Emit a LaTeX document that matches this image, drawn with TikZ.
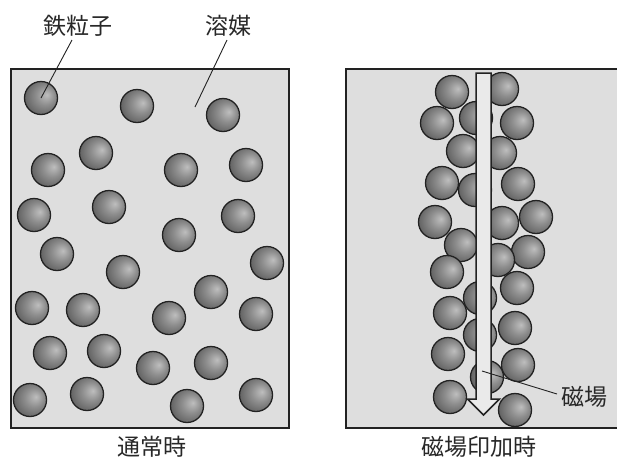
\documentclass[tikz,border=0pt]{standalone}
\usepackage{fontspec}
\newfontfamily\jpfont{Noto Sans CJK JP}
\definecolor{solvent}{RGB}{222,222,222}
\definecolor{edge}{RGB}{34,34,34}
\definecolor{ballhi}{RGB}{190,190,190}
\definecolor{ballmid}{RGB}{142,142,142}
\definecolor{balllo}{RGB}{96,96,96}
\definecolor{shaft}{RGB}{234,234,234}
\definecolor{labeltext}{RGB}{40,40,40}
% iron particle: soft highlight slightly right of centre
\pgfdeclareradialshading{particle}{\pgfpoint{9bp}{5bp}}{%
  color(0bp)=(ballhi); color(14bp)=(ballmid); color(30bp)=(balllo); color(50bp)=(balllo)}
\begin{document}
\begin{tikzpicture}[x=1pt,y=-1pt,
  frame/.style={draw=edge,line width=1.8pt},
  ball/.style={circle,minimum size=33pt,inner sep=0pt,shading=particle,draw=edge,line width=1.3pt},
  tag/.style={font=\jpfont\fontsize{23}{23}\selectfont,text=labeltext,inner sep=0pt},
  leader/.style={draw=edge,line width=0.9pt},
  fieldarrow/.style={fill=shaft,draw=edge,line width=1.5pt,line join=miter}]
\useasboundingbox (0,0) rectangle (617,464);
\fill[white] (0,0) rectangle (617,464);

% ---- normal state: particles dispersed in the solvent ----
\fill[solvent] (11,69) rectangle (289,428);
\foreach \px/\py [count=\i] in {41/98,137/106,223/115,96/153,48/170,181/170,246/165,
  109/207,34/215,238/216,179/235,57/254,267/263,123/272,211/292,32/308,83/310,
  169/318,256/314,50/353,104/351,153/368,211/363,30/400,87/394,187/406,256/395}
  \node[ball] (n\i) at (\px,\py) {};
\draw[frame] (11,69) rectangle (289,428);

% ---- field applied: particles chained along the field ----
\fill[solvent] (346,69) rectangle (617,428);
\foreach \px/\py [count=\i] in {452/92,502/89,437/123,476/118,517/123,463/151,500/153,
  442/183,475/190,518/184,435/222,502/223,536/217,461/245,528/252,498/260,447/272,
  517/288,480/298,450/313,515/328,480/335,448/354,518/365,487/377,450/397,515/410}
  \node[ball] (m\i) at (\px,\py) {};
\draw[frame] (620,69) -- (346,69) -- (346,428) -- (620,428);

% field arrow
\draw[fieldarrow] (476,73) -- (491,73) -- (491,399) -- (499.5,399) -- (483.5,415)
  -- (467.5,399) -- (476,399) -- cycle;

% ---- labels ----
\node[tag] (iron) at (78,26) {鉄粒子};
\node[tag] (solv) at (228,26) {溶媒};
\node[tag,anchor=west] (field) at (561,397) {磁場};
\node[tag] (capA) at (152,447) {通常時};
\node[tag] (capB) at (479,447) {磁場印加時};

\coordinate (ironA) at (72,40);
\coordinate (solvA) at (227,40);
\coordinate (solvB) at (195,107);
\coordinate (fieldA) at (482,371);
\coordinate (fieldB) at (557,394);
\draw[leader] (ironA) -- (n1.center);
\draw[leader] (solvA) -- (solvB);
\draw[leader] (fieldB) -- (fieldA);
\end{tikzpicture}
\end{document}
